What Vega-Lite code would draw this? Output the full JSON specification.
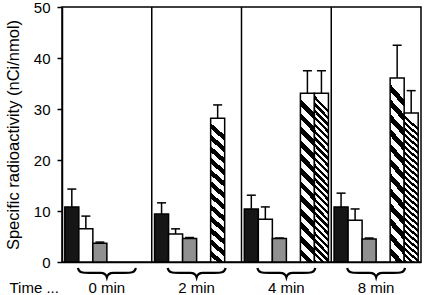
{
  "$schema": "https://vega.github.io/schema/vega-lite/v6.json",
  "width": 359,
  "height": 255,
  "autosize": {"type": "none"},
  "padding": {"left": 62, "top": 7, "right": 3, "bottom": 33},
  "background": "white",
  "config": {
    "view": {"stroke": "black", "strokeWidth": 1.5},
    "font": "Liberation Sans",
    "axis": {"domainColor": "black", "tickColor": "black", "labelColor": "black", "titleColor": "black", "titleFontWeight": "normal", "grid": false, "domainWidth": 1.5, "tickWidth": 1.5}
  },
  "data": {
    "values": [
      {"time": "0 min", "group": "black", "value": 10.8, "upper": 14.3},
      {"time": "0 min", "group": "white", "value": 6.5, "upper": 9.0},
      {"time": "0 min", "group": "gray", "value": 3.7, "upper": 3.9},
      {"time": "2 min", "group": "black", "value": 9.4, "upper": 11.6},
      {"time": "2 min", "group": "white", "value": 5.5, "upper": 6.5},
      {"time": "2 min", "group": "gray", "value": 4.6, "upper": 4.8},
      {"time": "2 min", "group": "hatch1", "value": 28.2, "upper": 30.8},
      {"time": "4 min", "group": "black", "value": 10.4, "upper": 13.1},
      {"time": "4 min", "group": "white", "value": 8.4, "upper": 10.8},
      {"time": "4 min", "group": "gray", "value": 4.6, "upper": 4.7},
      {"time": "4 min", "group": "hatch1", "value": 33.1, "upper": 37.5},
      {"time": "4 min", "group": "hatch2", "value": 33.1, "upper": 37.5},
      {"time": "8 min", "group": "black", "value": 10.8, "upper": 13.5},
      {"time": "8 min", "group": "white", "value": 8.2, "upper": 10.4},
      {"time": "8 min", "group": "gray", "value": 4.5, "upper": 4.7},
      {"time": "8 min", "group": "hatch1", "value": 36.1, "upper": 42.5},
      {"time": "8 min", "group": "hatch2", "value": 29.2, "upper": 33.6}
    ]
  },
  "encoding": {
    "x": {
      "field": "time", "type": "nominal",
      "scale": {"domain": ["0 min", "2 min", "4 min", "8 min"], "paddingInner": 0, "paddingOuter": 0},
      "axis": {"ticks": false, "labelPadding": 18, "labelFontSize": 15, "labelAngle": 0, "title": "Time ...", "titleFontSize": 15, "titleX": -53, "titleY": 25, "titleAlign": "left", "titleBaseline": "middle", "titleAngle": 0}
    }
  },
  "layer": [
    {
      "transform": [{"filter": "datum.group === 'black' || datum.group === 'white' || datum.group === 'gray'"}],
      "mark": {"type": "bar", "stroke": "black", "strokeWidth": 1.5},
      "encoding": {
        "xOffset": {"field": "group", "type": "nominal", "scale": {"domain": ["black", "white", "gray", "gap", "hatch1", "hatch2"], "paddingInner": 0, "paddingOuter": 0.2}},
        "y": {
          "field": "value", "type": "quantitative",
          "scale": {"domain": [0, 50], "nice": false},
          "axis": {"title": "Specific radioactivity (nCi/nmol)", "values": [0, 5, 10, 15, 20, 25, 30, 35, 40, 45, 50], "labelExpr": "datum.value % 10 === 0 ? datum.label : ''", "labelOverlap": false, "tickSize": 5, "labelPadding": 7, "labelFontSize": 15, "titleFontSize": 16.5, "titlePadding": 12}
        },
        "fill": {"field": "group", "type": "nominal", "scale": {"domain": ["black", "white", "gray"], "range": ["#161616", "#ffffff", "#909090"]}, "legend": null}
      }
    },
    {
      "transform": [{"filter": "datum.group === 'hatch1'"}],
      "mark": {
        "type": "bar", "stroke": "black", "strokeWidth": 1.5,
        "fill": {
          "gradient": "linear", "x1": 0.085, "y1": 0, "x2": 0, "y2": 1,
          "stops": [
            {"offset": 0, "color": "white"}, {"offset": 0.04, "color": "white"}, {"offset": 0.04, "color": "black"}, {"offset": 0.08, "color": "black"},
            {"offset": 0.08, "color": "white"}, {"offset": 0.12, "color": "white"}, {"offset": 0.12, "color": "black"}, {"offset": 0.16, "color": "black"},
            {"offset": 0.16, "color": "white"}, {"offset": 0.2, "color": "white"}, {"offset": 0.2, "color": "black"}, {"offset": 0.24, "color": "black"},
            {"offset": 0.24, "color": "white"}, {"offset": 0.28, "color": "white"}, {"offset": 0.28, "color": "black"}, {"offset": 0.32, "color": "black"},
            {"offset": 0.32, "color": "white"}, {"offset": 0.36, "color": "white"}, {"offset": 0.36, "color": "black"}, {"offset": 0.4, "color": "black"},
            {"offset": 0.4, "color": "white"}, {"offset": 0.44, "color": "white"}, {"offset": 0.44, "color": "black"}, {"offset": 0.48, "color": "black"},
            {"offset": 0.48, "color": "white"}, {"offset": 0.52, "color": "white"}, {"offset": 0.52, "color": "black"}, {"offset": 0.56, "color": "black"},
            {"offset": 0.56, "color": "white"}, {"offset": 0.6, "color": "white"}, {"offset": 0.6, "color": "black"}, {"offset": 0.64, "color": "black"},
            {"offset": 0.64, "color": "white"}, {"offset": 0.68, "color": "white"}, {"offset": 0.68, "color": "black"}, {"offset": 0.72, "color": "black"},
            {"offset": 0.72, "color": "white"}, {"offset": 0.76, "color": "white"}, {"offset": 0.76, "color": "black"}, {"offset": 0.8, "color": "black"},
            {"offset": 0.8, "color": "white"}, {"offset": 0.84, "color": "white"}, {"offset": 0.84, "color": "black"}, {"offset": 0.88, "color": "black"},
            {"offset": 0.88, "color": "white"}, {"offset": 0.92, "color": "white"}, {"offset": 0.92, "color": "black"}, {"offset": 0.96, "color": "black"},
            {"offset": 0.96, "color": "white"}, {"offset": 1, "color": "white"}
          ]
        }
      },
      "encoding": {
        "xOffset": {"field": "group", "type": "nominal"},
        "y": {"field": "value", "type": "quantitative"}
      }
    },
    {
      "transform": [{"filter": "datum.group === 'hatch2'"}],
      "mark": {
        "type": "bar", "stroke": "black", "strokeWidth": 1.5,
        "fill": {
          "gradient": "linear", "x1": 0.085, "y1": 0, "x2": 0, "y2": 1,
          "stops": [
            {"offset": 0, "color": "white"}, {"offset": 0.02, "color": "white"}, {"offset": 0.02, "color": "black"}, {"offset": 0.04, "color": "black"},
            {"offset": 0.04, "color": "white"}, {"offset": 0.06, "color": "white"}, {"offset": 0.06, "color": "black"}, {"offset": 0.08, "color": "black"},
            {"offset": 0.08, "color": "white"}, {"offset": 0.1, "color": "white"}, {"offset": 0.1, "color": "black"}, {"offset": 0.12, "color": "black"},
            {"offset": 0.12, "color": "white"}, {"offset": 0.14, "color": "white"}, {"offset": 0.14, "color": "black"}, {"offset": 0.16, "color": "black"},
            {"offset": 0.16, "color": "white"}, {"offset": 0.18, "color": "white"}, {"offset": 0.18, "color": "black"}, {"offset": 0.2, "color": "black"},
            {"offset": 0.2, "color": "white"}, {"offset": 0.22, "color": "white"}, {"offset": 0.22, "color": "black"}, {"offset": 0.24, "color": "black"},
            {"offset": 0.24, "color": "white"}, {"offset": 0.26, "color": "white"}, {"offset": 0.26, "color": "black"}, {"offset": 0.28, "color": "black"},
            {"offset": 0.28, "color": "white"}, {"offset": 0.3, "color": "white"}, {"offset": 0.3, "color": "black"}, {"offset": 0.32, "color": "black"},
            {"offset": 0.32, "color": "white"}, {"offset": 0.34, "color": "white"}, {"offset": 0.34, "color": "black"}, {"offset": 0.36, "color": "black"},
            {"offset": 0.36, "color": "white"}, {"offset": 0.38, "color": "white"}, {"offset": 0.38, "color": "black"}, {"offset": 0.4, "color": "black"},
            {"offset": 0.4, "color": "white"}, {"offset": 0.42, "color": "white"}, {"offset": 0.42, "color": "black"}, {"offset": 0.44, "color": "black"},
            {"offset": 0.44, "color": "white"}, {"offset": 0.46, "color": "white"}, {"offset": 0.46, "color": "black"}, {"offset": 0.48, "color": "black"},
            {"offset": 0.48, "color": "white"}, {"offset": 0.5, "color": "white"}, {"offset": 0.5, "color": "black"}, {"offset": 0.52, "color": "black"},
            {"offset": 0.52, "color": "white"}, {"offset": 0.54, "color": "white"}, {"offset": 0.54, "color": "black"}, {"offset": 0.56, "color": "black"},
            {"offset": 0.56, "color": "white"}, {"offset": 0.58, "color": "white"}, {"offset": 0.58, "color": "black"}, {"offset": 0.6, "color": "black"},
            {"offset": 0.6, "color": "white"}, {"offset": 0.62, "color": "white"}, {"offset": 0.62, "color": "black"}, {"offset": 0.64, "color": "black"},
            {"offset": 0.64, "color": "white"}, {"offset": 0.66, "color": "white"}, {"offset": 0.66, "color": "black"}, {"offset": 0.68, "color": "black"},
            {"offset": 0.68, "color": "white"}, {"offset": 0.7, "color": "white"}, {"offset": 0.7, "color": "black"}, {"offset": 0.72, "color": "black"},
            {"offset": 0.72, "color": "white"}, {"offset": 0.74, "color": "white"}, {"offset": 0.74, "color": "black"}, {"offset": 0.76, "color": "black"},
            {"offset": 0.76, "color": "white"}, {"offset": 0.78, "color": "white"}, {"offset": 0.78, "color": "black"}, {"offset": 0.8, "color": "black"},
            {"offset": 0.8, "color": "white"}, {"offset": 0.82, "color": "white"}, {"offset": 0.82, "color": "black"}, {"offset": 0.84, "color": "black"},
            {"offset": 0.84, "color": "white"}, {"offset": 0.86, "color": "white"}, {"offset": 0.86, "color": "black"}, {"offset": 0.88, "color": "black"},
            {"offset": 0.88, "color": "white"}, {"offset": 0.9, "color": "white"}, {"offset": 0.9, "color": "black"}, {"offset": 0.92, "color": "black"},
            {"offset": 0.92, "color": "white"}, {"offset": 0.94, "color": "white"}, {"offset": 0.94, "color": "black"}, {"offset": 0.96, "color": "black"},
            {"offset": 0.96, "color": "white"}, {"offset": 0.98, "color": "white"}, {"offset": 0.98, "color": "black"}, {"offset": 1, "color": "black"}
          ]
        }
      },
      "encoding": {
        "xOffset": {"field": "group", "type": "nominal"},
        "y": {"field": "value", "type": "quantitative"}
      }
    },
    {
      "mark": {"type": "rule", "color": "black", "strokeWidth": 1.5},
      "encoding": {
        "xOffset": {"field": "group", "type": "nominal"},
        "y": {"field": "value", "type": "quantitative"},
        "y2": {"field": "upper"}
      }
    },
    {
      "mark": {"type": "tick", "color": "black", "thickness": 1.5, "size": 9, "opacity": 1},
      "encoding": {
        "xOffset": {"field": "group", "type": "nominal"},
        "y": {"field": "upper", "type": "quantitative"}
      }
    },
    {
      "data": {"values": [{"time": "2 min"}, {"time": "4 min"}, {"time": "8 min"}]},
      "mark": {"type": "rule", "color": "black", "strokeWidth": 1.5},
      "encoding": {
        "x": {"field": "time", "type": "nominal", "bandPosition": 0}
      }
    },
    {
      "data": {"values": [{"time": "0 min"}, {"time": "2 min"}, {"time": "4 min"}, {"time": "8 min"}]},
      "mark": {
        "type": "point",
        "shape": "M -1 -0.14 C -0.96 0.04 -0.82 0.03 -0.55 0.03 L -0.22 0.03 C -0.09 0.03 -0.03 0.07 0 0.18 C 0.03 0.07 0.09 0.03 0.22 0.03 L 0.55 0.03 C 0.82 0.03 0.96 0.04 1 -0.14",
        "filled": false, "stroke": "black", "strokeWidth": 2.2, "opacity": 1, "size": 3364, "yOffset": 10
      },
      "encoding": {
        "y": {"datum": 0, "type": "quantitative"}
      }
    }
  ]
}
